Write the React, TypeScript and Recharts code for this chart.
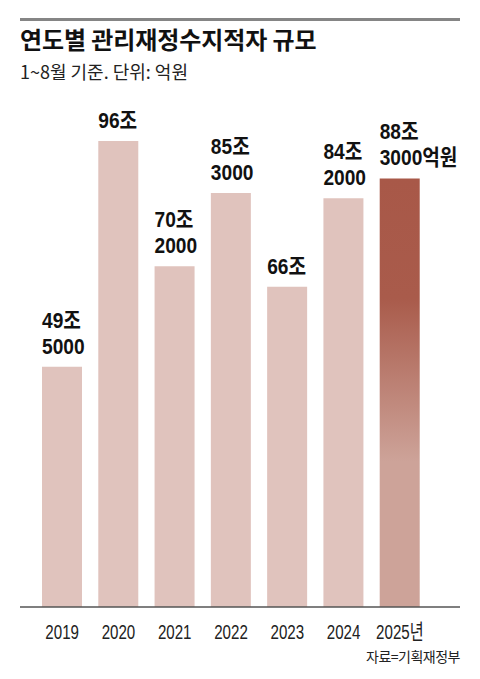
import { BarChart, Bar, XAxis, YAxis, Cell, LabelList } from "recharts";

const years = ["2019", "2020", "2021", "2022", "2023", "2024", "2025년"];
const deficits = [49.5, 96, 70.2, 85.3, 66, 84.2, 88.3];
const labelTop = ["49조", "96조", "70조", "85조", "66조", "84조", "88조"];
const labelBottom = ["5000", "", "2000", "3000", "", "2000", "3000억원"];

// no narrow face installed, so Liberation Sans gets squeezed horizontally
const SANS = "'Liberation Sans', 'Noto Sans CJK KR', sans-serif";
const KR = "'Noto Sans CJK KR', sans-serif";

const data = years.map((year, i) => ({
  year,
  value: deficits[i],
  top: labelTop[i],
  bottom: labelBottom[i],
}));

const YearTick = ({ x, y, payload }: { x: number; y: number; payload: { value: string } }) => (
  <g transform={`translate(${x},${y + 24}) scale(0.72,1)`}>
    <text x={0} y={0} textAnchor="middle" fill="#222" fontSize={21} fontFamily={SANS}>
      {payload.value}
    </text>
  </g>
);

const ValueLabel = (props: any) => {
  const { x, y, index } = props;
  const d = data[index];
  const lines = d.bottom ? [d.top, d.bottom] : [d.top];
  const base = y - 13;
  return (
    <g transform={`translate(${x},${base}) scale(0.87,1)`}>
      {lines.map((line, i) => (
        <text
          key={i}
          x={0}
          y={-(lines.length - 1 - i) * 26}
          fill="#111"
          fontSize={22}
          fontWeight={700}
          fontFamily={SANS}
        >
          {line}
        </text>
      ))}
    </g>
  );
};

export default function App() {
  return (
    <div
      style={{
        position: "absolute",
        left: 0,
        top: 0,
        width: 480,
        height: 679,
        background: "#fff",
      }}
    >
      <div
        style={{
          position: "absolute",
          left: 20,
          top: 18,
          width: 440,
          height: 2.5,
          background: "#858585",
        }}
      />
      <div
        style={{
          position: "absolute",
          left: 20,
          top: 24,
          fontFamily: KR,
          fontWeight: 700,
          fontSize: 24,
          lineHeight: "30px",
          letterSpacing: -0.1,
          color: "#111",
          whiteSpace: "nowrap",
        }}
      >
        연도별 관리재정수지적자 규모
      </div>
      <div
        style={{
          position: "absolute",
          left: 20,
          top: 59,
          fontFamily: KR,
          fontSize: 18,
          lineHeight: "24px",
          letterSpacing: 0,
          color: "#222",
          whiteSpace: "nowrap",
        }}
      >
        1~8월 기준. 단위: 억원
      </div>
      <div style={{ position: "absolute", left: 0, top: 0 }}>
        <BarChart
          width={480}
          height={679}
          data={data}
          margin={{ top: 121.6, right: 20, bottom: 42, left: 20 }}
        >
          <defs>
            <linearGradient id="hot" x1="0" y1="0" x2="0" y2="1">
              <stop offset="0" stopColor="#a85848" />
              <stop offset="0.28" stopColor="#a95b4b" />
              <stop offset="0.66" stopColor="#cda399" />
              <stop offset="1" stopColor="#cda399" />
            </linearGradient>
          </defs>
          <XAxis
            dataKey="year"
            height={30}
            padding={{ left: 14, right: 32 }}
            axisLine={{ stroke: "#555", strokeWidth: 1.5 }}
            tickLine={false}
            tick={(p: any) => <YearTick {...p} />}
            interval={0}
          />
          <YAxis hide domain={[0, 100]} />
          <Bar dataKey="value" barSize={40} isAnimationActive={false}>
            {data.map((d, i) => (
              <Cell key={d.year} fill={i === data.length - 1 ? "url(#hot)" : "#e0c3bd"} />
            ))}
            <LabelList dataKey="value" content={<ValueLabel />} />
          </Bar>
        </BarChart>
      </div>
      <div
        style={{
          position: "absolute",
          right: 20,
          top: 646,
          fontFamily: KR,
          fontSize: 14,
          lineHeight: "20px",
          letterSpacing: -0.5,
          color: "#222",
          whiteSpace: "nowrap",
        }}
      >
        자료=기획재정부
      </div>
    </div>
  );
}
